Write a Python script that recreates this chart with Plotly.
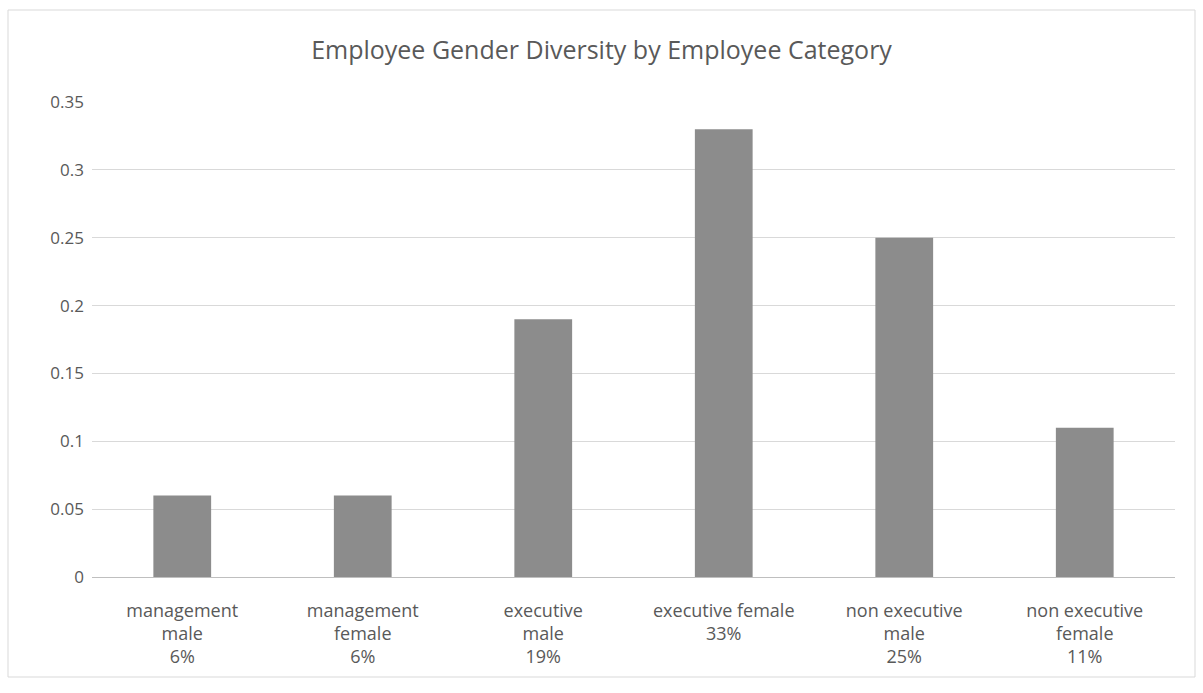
import plotly.graph_objects as go

categories = ["management<br>male<br>6%", "management<br>female<br>6%", "executive<br>male<br>19%",
              "executive female<br>33%", "non executive<br>male<br>25%", "non executive<br>female<br>11%"]
values = [0.06, 0.06, 0.19, 0.33, 0.25, 0.11]
y_ticks = [0, 0.05, 0.1, 0.15, 0.2, 0.25, 0.3, 0.35]

font_family = "Open Sans, Liberation Sans, sans-serif"

fig = go.Figure(go.Bar(x=categories, y=values, marker_color="#8c8c8c", marker_line_width=0, width=0.32))

L, R, T, B = 92, 28, 102, 116
W, H = 1203, 693
pw, ph = W - L - R, H - T - B

fig.update_layout(
    width=W, height=H,
    margin=dict(l=L, r=R, t=T, b=B),
    paper_bgcolor="white", plot_bgcolor="white",
    title=dict(text="Employee Gender Diversity by Employee Category", x=0.5, xanchor="center",
               y=1 - 50 / H, yanchor="middle",
               font=dict(family=font_family, size=25, color="#595959")),
    font=dict(family=font_family, color="#595959"),
    showlegend=False,
    xaxis=dict(showgrid=False, showline=True, linecolor="#bfbfbf", linewidth=1,
               tickfont=dict(size=18, color="#595959"), ticks="", ticklabelstandoff=17),
    yaxis=dict(range=[0, 0.35], tickvals=y_ticks, showgrid=True, gridcolor="#d9d9d9", gridwidth=1,
               zeroline=False, showline=False, tickfont=dict(size=17, color="#595959"),
               ticklabelstandoff=7),
    shapes=[dict(type="rect", xref="paper", yref="paper",
                 x0=(8 - L) / pw, x1=(1195 - L) / pw,
                 y0=(H - T - 691) / ph, y1=(H - B - 10) / ph,
                 line=dict(color="#d9d9d9", width=1), layer="below")],
)
fig.write_html("out.html")
